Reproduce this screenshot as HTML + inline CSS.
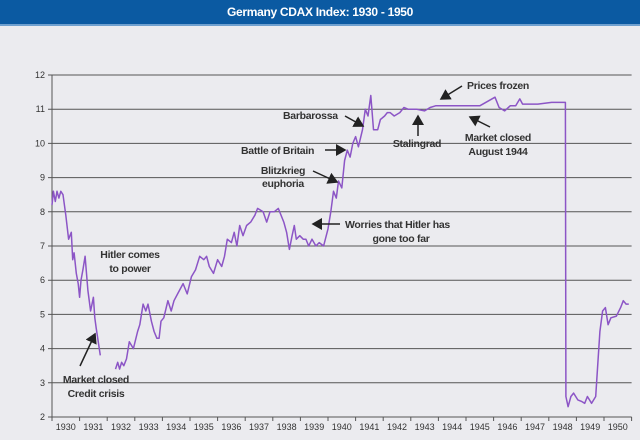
<!DOCTYPE html>
<html><head><meta charset="utf-8"><style>
body{margin:0;width:640px;height:440px;background:#ebebef;font-family:"Liberation Sans",sans-serif;overflow:hidden}
#title{position:absolute;left:0;top:0;width:640px;height:24px;background:#0b5aa2;border-bottom:2px solid #6fa0cf;color:#fff;font-weight:bold;font-size:12px;text-align:center;line-height:24px;letter-spacing:-0.3px}
svg{position:absolute;left:0;top:0}
.ann{font-size:10.5px;font-weight:bold;fill:#333;letter-spacing:-0.3px}
.tk{font-size:9px;fill:#333}
</style></head><body>
<div id="title">Germany CDAX Index: 1930 - 1950</div>
<svg id="chart" width="640" height="440">
<defs><marker id="ah" markerWidth="8" markerHeight="8" refX="6" refY="4" orient="auto"><path d="M0,0 L7,4 L0,8 z" fill="#222"/></marker></defs>
<g id="grid"></g><g id="axes"></g><g id="series"></g>
<g id="annotations" stroke="#222" stroke-width="1.5">
<line x1="80" y1="366" x2="95" y2="334" marker-end="url(#ah)"/>
<line x1="345" y1="116" x2="363" y2="126" marker-end="url(#ah)"/>
<line x1="325" y1="150" x2="345" y2="150" marker-end="url(#ah)"/>
<line x1="313" y1="171" x2="337" y2="182" marker-end="url(#ah)"/>
<line x1="340" y1="224" x2="313" y2="224" marker-end="url(#ah)"/>
<line x1="418" y1="136" x2="418" y2="116" marker-end="url(#ah)"/>
<line x1="462" y1="86" x2="441" y2="99" marker-end="url(#ah)"/>
<line x1="490" y1="127" x2="470" y2="117" marker-end="url(#ah)"/>
</g>
<g stroke="none">
<text class="ann" x="130" y="258" text-anchor="middle">Hitler comes</text>
<text class="ann" x="130" y="272" text-anchor="middle">to power</text>
<text class="ann" x="96" y="383" text-anchor="middle">Market closed</text>
<text class="ann" x="96" y="397" text-anchor="middle">Credit crisis</text>
<text class="ann" x="283" y="119">Barbarossa</text>
<text class="ann" x="241" y="154">Battle of Britain</text>
<text class="ann" x="283" y="174" text-anchor="middle">Blitzkrieg</text>
<text class="ann" x="283" y="187" text-anchor="middle">euphoria</text>
<text class="ann" x="345" y="228">Worries that Hitler has</text>
<text class="ann" x="401" y="242" text-anchor="middle">gone too far</text>
<text class="ann" x="417" y="147" text-anchor="middle">Stalingrad</text>
<text class="ann" x="467" y="89">Prices frozen</text>
<text class="ann" x="498" y="141" text-anchor="middle">Market closed</text>
<text class="ann" x="498" y="155" text-anchor="middle">August 1944</text>
</g>
</svg>
<script>
const yTicks=[2,3,4,5,6,7,8,9,10,11,12];
const yearLabels=[1930,1931,1932,1933,1934,1935,1936,1937,1938,1939,1940,1941,1942,1943,1944,1945,1946,1947,1948,1949,1950];
const seg1Years=[1930.0,1930.05,1930.12,1930.18,1930.25,1930.32,1930.4,1930.5,1930.6,1930.7,1930.75,1930.8,1930.88,1930.95,1931.0,1931.05,1931.12,1931.2,1931.3,1931.4,1931.5,1931.55,1931.6,1931.75];
const seg1Values=[8.2,8.6,8.3,8.6,8.4,8.6,8.5,7.9,7.2,7.4,6.6,6.8,6.2,5.9,5.5,6.0,6.3,6.7,5.7,5.1,5.5,4.9,4.6,3.8];
const seg2Years=[1932.3,1932.38,1932.45,1932.52,1932.6,1932.7,1932.8,1932.95,1933.1,1933.18,1933.3,1933.4,1933.48,1933.6,1933.7,1933.8,1933.88,1933.95,1934.05,1934.2,1934.32,1934.42,1934.55,1934.75,1934.9,1935.05,1935.2,1935.35,1935.5,1935.6,1935.7,1935.85,1936.0,1936.15,1936.25,1936.35,1936.5,1936.6,1936.7,1936.8,1936.92,1937.05,1937.2,1937.35,1937.45,1937.65,1937.78,1937.9,1938.05,1938.2,1938.4,1938.5,1938.6,1938.7,1938.78,1938.85,1938.98,1939.1,1939.2,1939.3,1939.42,1939.56,1939.68,1939.84,1940.0,1940.1,1940.2,1940.3,1940.38,1940.5,1940.6,1940.7,1940.8,1940.9,1941.0,1941.1,1941.25,1941.35,1941.45,1941.55,1941.65,1941.8,1941.9,1942.05,1942.15,1942.25,1942.4,1942.6,1942.75,1942.9,1943.2,1943.5,1943.7,1943.9,1944.1,1944.35,1945.5,1946.05,1946.2,1946.4,1946.6,1946.8,1946.95,1947.05,1947.2,1947.6,1948.1,1948.6,1948.62,1948.7,1948.8,1948.9,1949.05,1949.2,1949.3,1949.4,1949.55,1949.7,1949.78,1949.85,1949.95,1950.05,1950.15,1950.25,1950.45,1950.6,1950.7,1950.8,1950.9,1951.0];
const seg2Values=[3.4,3.6,3.4,3.6,3.5,3.7,4.2,4.0,4.5,4.7,5.3,5.1,5.3,4.8,4.5,4.3,4.3,4.8,4.9,5.4,5.1,5.4,5.6,5.9,5.6,6.1,6.3,6.7,6.6,6.7,6.4,6.2,6.6,6.4,6.7,7.2,7.1,7.4,7.0,7.6,7.3,7.6,7.7,7.9,8.1,8.0,7.7,8.0,8.0,8.1,7.7,7.4,6.9,7.3,7.6,7.2,7.3,7.2,7.2,7.0,7.2,7.0,7.1,7.0,7.5,8.0,8.6,8.4,8.9,8.7,9.5,9.8,9.6,10.0,10.2,9.9,10.4,11.0,10.8,11.4,10.4,10.4,10.7,10.8,10.9,10.9,10.8,10.9,11.05,11.0,11.0,10.95,11.05,11.1,11.1,11.1,11.1,11.35,11.05,10.95,11.1,11.1,11.3,11.15,11.15,11.15,11.2,11.2,2.6,2.3,2.6,2.7,2.5,2.45,2.4,2.6,2.4,2.6,3.6,4.5,5.1,5.2,4.7,4.9,4.95,5.2,5.4,5.3,5.3];
const X0=52,X1=631.6,Y0=417,Y1=75;
const xs=t=>X0+(t-1930)*(X1-X0)/21;
const ys=v=>Y0-(v-2)*(Y0-Y1)/10;
const NS='http://www.w3.org/2000/svg';
const grid=document.getElementById('grid'),axes=document.getElementById('axes'),series=document.getElementById('series');
function mk(tag,attrs,parent){const e=document.createElementNS(NS,tag);for(const k in attrs)e.setAttribute(k,attrs[k]);parent.appendChild(e);return e;}
yTicks.forEach(v=>{
 const l=mk('line',{x1:X0-4,x2:X1,y1:ys(v),y2:ys(v),stroke:'#555','stroke-width':1},grid);
 
 
 const t=mk('text',{x:X0-7,y:ys(v)+3,'text-anchor':'end',class:'tk'},axes);t.textContent=v;
 
 
});
mk('line',{x1:X0,x2:X0,y1:Y1,y2:Y0,stroke:'#555','stroke-width':1},axes);
mk('line',{x1:X0,x2:X1,y1:Y0,y2:Y0,stroke:'#555','stroke-width':1},axes);
for(let i=0;i<=21;i++){mk('line',{x1:xs(1930+i),x2:xs(1930+i),y1:Y0,y2:Y0+4,stroke:'#555'},axes);}
yearLabels.forEach(y=>{
 const t=mk('text',{x:xs(y+0.5),y:Y0+13,'text-anchor':'middle',class:'tk'},axes);t.textContent=y;
 
 
});
[[seg1Years,seg1Values],[seg2Years,seg2Values]].forEach(([a,b],i)=>{
 const d=a.map((t,j)=>(j?'L':'M')+xs(t).toFixed(1)+','+ys(b[j]).toFixed(1)).join('');
 const p=mk('path',{d:d,fill:'none',stroke:'#8c55c6','stroke-width':1.5,'stroke-linejoin':'round'},series);
 
 
});
</script>
</body></html>
